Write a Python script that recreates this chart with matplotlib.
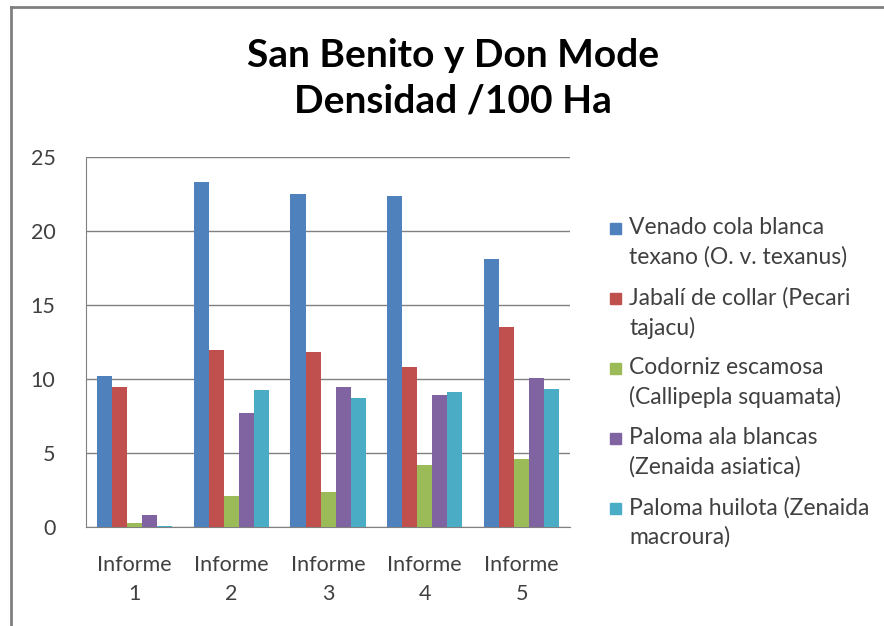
import matplotlib.pyplot as plt
from matplotlib.patches import Rectangle
import numpy as np

informes = ['Informe\n1', 'Informe\n2', 'Informe\n3', 'Informe\n4', 'Informe\n5']
venado = [10.2, 23.3, 22.5, 22.4, 18.1]
jabali = [9.45, 12.0, 11.85, 10.85, 13.5]
codorniz = [0.27, 2.07, 2.4, 4.17, 4.62]
paloma_ala = [0.8, 7.7, 9.5, 8.9, 10.05]
huilota = [0.1, 9.25, 8.7, 9.15, 9.3]

series = [
    ('Venado cola blanca\ntexano (O. v. texanus)', venado, '#4F81BD'),
    ('Jabalí de collar (Pecari\ntajacu)', jabali, '#C0504D'),
    ('Codorniz escamosa\n(Callipepla squamata)', codorniz, '#9BBB59'),
    ('Paloma ala blancas\n(Zenaida asiatica)', paloma_ala, '#8064A2'),
    ('Paloma huilota (Zenaida\nmacroura)', huilota, '#4BACC6'),
]

plt.rcParams['font.family'] = ['Lato', 'DejaVu Sans']

W, H = 884, 626
fig = plt.figure(figsize=(W / 100, H / 100), dpi=100)
ax = fig.add_axes([0.0973, 0.158, 0.5475, 0.591])

x = np.arange(len(informes))
w = 0.155
for i, (label, vals, color) in enumerate(series):
    ax.bar(x + (i - 2) * w, vals, width=w, color=color, label=label, zorder=3)

ax.set_xlim(-0.5, 4.5)
ax.set_ylim(0, 25)
ax.set_yticks([0, 5, 10, 15, 20, 25])
ax.set_xticks(x)
ax.set_xticklabels(informes, linespacing=1.6)
ax.yaxis.grid(True, color='#808080', linewidth=1, zorder=0)
ax.tick_params(axis='both', length=0, labelsize=15.5, colors='#404040', pad=20)
ax.tick_params(axis='y', pad=22)
for s in ['top', 'right']:
    ax.spines[s].set_visible(False)
ax.spines['left'].set_color('#808080')
ax.spines['bottom'].set_color('#808080')

fig.text(0.512, 0.912, 'San Benito y Don Mode', ha='center', va='center',
         fontsize=28, fontweight='bold')
fig.text(0.512, 0.838, 'Densidad /100 Ha', ha='center', va='center',
         fontsize=28, fontweight='bold')

# legend, square next to the first line of each label
for i, (label, vals, color) in enumerate(series):
    yc = 228 + 70 * i
    fig.add_artist(Rectangle((610 / W, 1 - (yc + 5.5) / H), 11 / W, 11 / H,
                             color=color, transform=fig.transFigure))
    fig.text(629 / W, 1 - (yc - 11) / H, label, ha='left', va='top',
             fontsize=16.5, color='#404040', linespacing=1.45)

# outer chart border
fig.add_artist(plt.Line2D([0.0125, 0.0125], [0, 0.989], color='#808080', lw=2,
                          transform=fig.transFigure))
fig.add_artist(plt.Line2D([0.0125, 1], [0.989, 0.989], color='#808080', lw=2,
                          transform=fig.transFigure))

fig.savefig('out.png', dpi=100)
